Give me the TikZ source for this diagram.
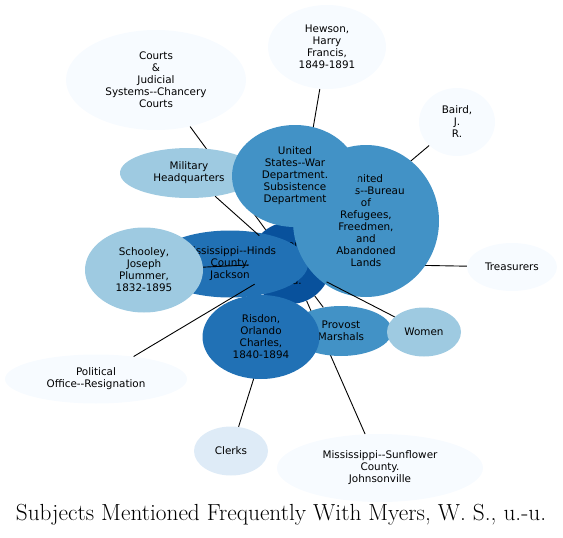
\documentclass[tikz,border=0pt]{standalone}
\usepackage{fontspec}
\newfontfamily\subjfont{DejaVu Sans}
\usetikzlibrary{shapes.geometric,backgrounds}
\definecolor{blues0}{HTML}{F7FBFF}
\definecolor{blues1}{HTML}{DEEBF7}
\definecolor{blues3}{HTML}{9ECAE1}
\definecolor{blues5}{HTML}{4292C6}
\definecolor{blues6}{HTML}{2171B5}
\definecolor{blues7}{HTML}{08519C}

\begin{document}
\begin{tikzpicture}[x=1pt,y=-1pt,
    subj/.style={ellipse,inner sep=0pt,align=center,
        font=\subjfont\fontsize{10.4}{12}\selectfont},
    dims/.style 2 args={minimum width=#1,minimum height=#2},
    link/.style={line width=0.9pt}]
    \useasboundingbox (0,0) rectangle (563,538);

    % outer subjects
    \node[subj,fill=blues0,dims={180}{100}] (courts) at (156,80) {Courts\\\&\\Judicial\\Systems-{}-Chancery\\Courts};
    \node[subj,fill=blues0,dims={118}{84}] (hewson) at (327,47) {Hewson,\\Harry\\Francis,\\1849-1891};
    \node[subj,fill=blues0,dims={76}{68}] (baird) at (457,122) {Baird,\\J.\\R.};
    \node[subj,fill=blues0,dims={90}{48}] (treas) at (512,267) {Treasurers};
    \node[subj,fill=blues0,dims={182}{49}] (polit) at (96,379) {Political\\Office-{}-Resignation};
    \node[subj,fill=blues1,dims={74}{49}] (clerks) at (231,451) {Clerks};
    \node[subj,fill=blues0,dims={206}{68}] (sunfl) at (380,468) {Mississippi-{}-Sunflower\\County.\\Johnsonville};

    % centre and the inner ring
    \node[subj,fill=blues7,dims={82}{82}] (myers) at (290,263) {Myers,\\W.\\S.,\\u.-u.};
    \node[subj,fill=blues6,dims={156}{67}] (hinds) at (230,264) {Mississippi-{}-Hinds\\County.\\Jackson};
    \node[subj,fill=blues3,dims={118}{85}] (schooley) at (144,270) {Schooley,\\Joseph\\Plummer,\\1832-1895};
    \node[subj,fill=blues3,dims={138}{50}] (milhq) at (189,173) {Military\\Headquarters};
    \node[subj,fill=blues5,dims={146}{152}] (bureau) at (366,221) {United\\States-{}-Bureau\\of\\Refugees,\\Freedmen,\\and\\Abandoned\\Lands};
    \node[subj,fill=blues5,dims={126}{102}] (wardept) at (295,176) {United\\States-{}-War\\Department.\\Subsistence\\Department};
    \node[subj,fill=blues5,dims={102}{50}] (provost) at (341,331) {Provost\\Marshals};
    \node[subj,fill=blues6,dims={117}{84}] (risdon) at (261,337) {Risdon,\\Orlando\\Charles,\\1840-1894};
    \node[subj,fill=blues3,dims={74}{49}] (women) at (424,332) {Women};

    % links under the nodes
    \begin{pgfonlayer}{background}
        \draw[link] (courts) to (myers);
        \draw[link] (hewson) to (myers);
        \draw[link] (baird) to (myers);
        \draw[link] (treas) to (myers);
        \draw[link] (sunfl) to (myers);
        \draw[link] (clerks) to (myers);
        \draw[link] (risdon) to (myers);
        \draw[link] (hinds) to (myers);
        \draw[link] (wardept) to (myers);
        \draw[link] (bureau) to (myers);
    \end{pgfonlayer}

    % links over the nodes
    \draw[link] (schooley) to (myers);
    \draw[link] (polit) to (myers);
    \draw[link] (women) to (myers);
    \draw[link] (milhq) to (myers);
    \draw[link] (provost) to (myers);

    \node[font=\fontsize{23.3}{27}\selectfont] (title) at (281,515) {Subjects Mentioned Frequently With Myers, W. S., u.-u.};
\end{tikzpicture}
\end{document}
